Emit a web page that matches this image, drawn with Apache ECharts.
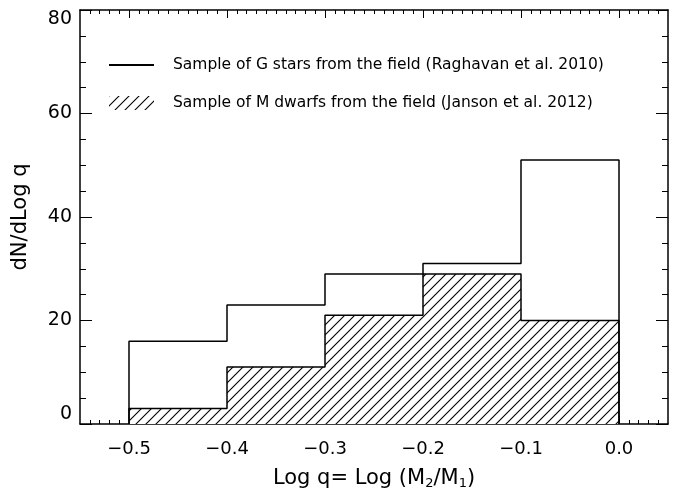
<!DOCTYPE html>
<html><head><meta charset="utf-8">
<script src="https://cdn.jsdelivr.net/npm/echarts@6/dist/echarts.min.js"></script>
<style>html,body{margin:0;padding:0;background:#fff}#c{width:686px;height:490px}</style>
</head><body><div id="c"></div>
<script>
// ---- data ----
const binEdges = [-0.5, -0.4, -0.3, -0.2, -0.1, 0.0];
const gStars = [16, 23, 29, 31, 51];
const mDwarfs = [3, 11, 21, 29, 20];
const xTickLabels = [-0.5, -0.4, -0.3, -0.2, -0.1, 0.0];
const yTickLabels = [0, 20, 40, 60, 80];
const seriesNames = [
  'Sample of G stars from the field (Raghavan et al. 2010)',
  'Sample of M dwarfs from the field (Janson et al. 2012)'
];

function stepPoints(edges, vals) {
  const pts = [[edges[0], 0]];
  for (let i = 0; i < vals.length; i++) {
    pts.push([edges[i], vals[i]]);
    pts.push([edges[i + 1], vals[i]]);
  }
  pts.push([edges[edges.length - 1], 0]);
  return pts;
}
const xMinor = [];
for (let i = -54; i <= 4; i++) xMinor.push(i / 100);

// hatch pattern
const pc = document.createElement('canvas');
pc.width = 10; pc.height = 10;
const g = pc.getContext('2d');
g.fillStyle = '#fff'; g.fillRect(0, 0, 10, 10);
g.strokeStyle = '#000'; g.lineWidth = 1.1;
g.beginPath();
g.moveTo(0, 10); g.lineTo(10, 0);
g.moveTo(-1, 1); g.lineTo(1, -1);
g.moveTo(9, 11); g.lineTo(11, 9);
g.stroke();
const hatch = { image: pc, repeat: 'repeat' };

const font = 'DejaVu Sans';
const lineSt = { color: '#000', width: 1.5 };
const fmt = v => (v < 0 ? '\u2212' : '') + Math.abs(v).toFixed(1);

function xAx(pos, major, labels) {
  return {
    type: 'value', position: pos, min: -0.55, max: 0.05,
    axisLine: { show: major, onZero: false, lineStyle: lineSt },
    axisTick: { show: true, inside: true, length: major ? 8 : 4,
      customValues: major ? xTickLabels : xMinor, lineStyle: { color: '#000', width: 1 } },
    axisLabel: labels ? { show: true, customValues: xTickLabels, formatter: fmt, margin: 16,
      color: '#000', fontSize: 18, fontFamily: font } : { show: false },
    splitLine: { show: false }
  };
}
function yAx(pos, labels) {
  return {
    type: 'value', position: pos, min: 0, max: 80, interval: 20,
    axisLine: { show: true, onZero: false, lineStyle: lineSt },
    axisTick: { show: true, inside: true, length: 12, lineStyle: { color: '#000', width: 1 } },
    minorTick: { show: true, splitNumber: 4, length: 6, lineStyle: { color: '#000', width: 1 } },
    axisLabel: labels ? { show: true, margin: 8, color: '#000', fontSize: 19, fontFamily: font,
      verticalAlignMaxLabel: 'top', verticalAlignMinLabel: 'bottom' } : { show: false },
    splitLine: { show: false }
  };
}

const xAxes = [xAx('bottom', true, true), xAx('bottom', false, false), xAx('top', true, false), xAx('top', false, false)];
Object.assign(xAxes[0], {
  name: 'Log q= Log (M{sub|2}/M{sub|1})', nameLocation: 'middle', nameGap: 43,
  nameTextStyle: { fontSize: 21, color: '#000', fontFamily: font,
    rich: { sub: { fontSize: 13, fontFamily: font, color: '#000', verticalAlign: 'bottom', padding: [10, 0, 0, 0] } } }
});
const yAxes = [yAx('left', true), yAx('right', false)];
Object.assign(yAxes[0], {
  name: 'dN/dLog q', nameLocation: 'middle', nameGap: 49,
  nameTextStyle: { fontSize: 21, color: '#000', fontFamily: font }
});

const chart = echarts.init(document.getElementById('c'), null, { renderer: 'canvas' });
chart.setOption({
  animation: false,
  backgroundColor: '#fff',
  grid: { left: 80, right: 18, top: 10, bottom: 66, containLabel: false, outerBoundsMode: 'none' },
  xAxis: xAxes,
  yAxis: yAxes,
  legend: {
    orient: 'vertical', left: 108, top: 57, padding: 0, itemWidth: 45, itemHeight: 14, itemGap: 22,
    selectedMode: false,
    textStyle: { fontSize: 15.5, fontFamily: font, color: '#000', padding: [0, 0, 0, 14] },
    data: [
      { name: seriesNames[0], itemStyle: { color: 'rgba(0,0,0,0)', borderWidth: 0, opacity: 0 } },
      { name: seriesNames[1], icon: 'rect', itemStyle: { color: hatch, borderWidth: 0 } }
    ]
  },
  series: [
    { name: seriesNames[1], type: 'line', xAxisIndex: 0, yAxisIndex: 0,
      data: stepPoints(binEdges, mDwarfs), symbol: 'none', showSymbol: false,
      lineStyle: lineSt, itemStyle: { color: '#000' },
      areaStyle: { color: hatch, opacity: 1 }, z: 2 },
    { name: seriesNames[0], type: 'line', xAxisIndex: 0, yAxisIndex: 0,
      data: stepPoints(binEdges, gStars), symbol: 'none', showSymbol: false,
      lineStyle: lineSt, itemStyle: { color: '#000' }, z: 3 }
  ]
});
</script></body></html>
